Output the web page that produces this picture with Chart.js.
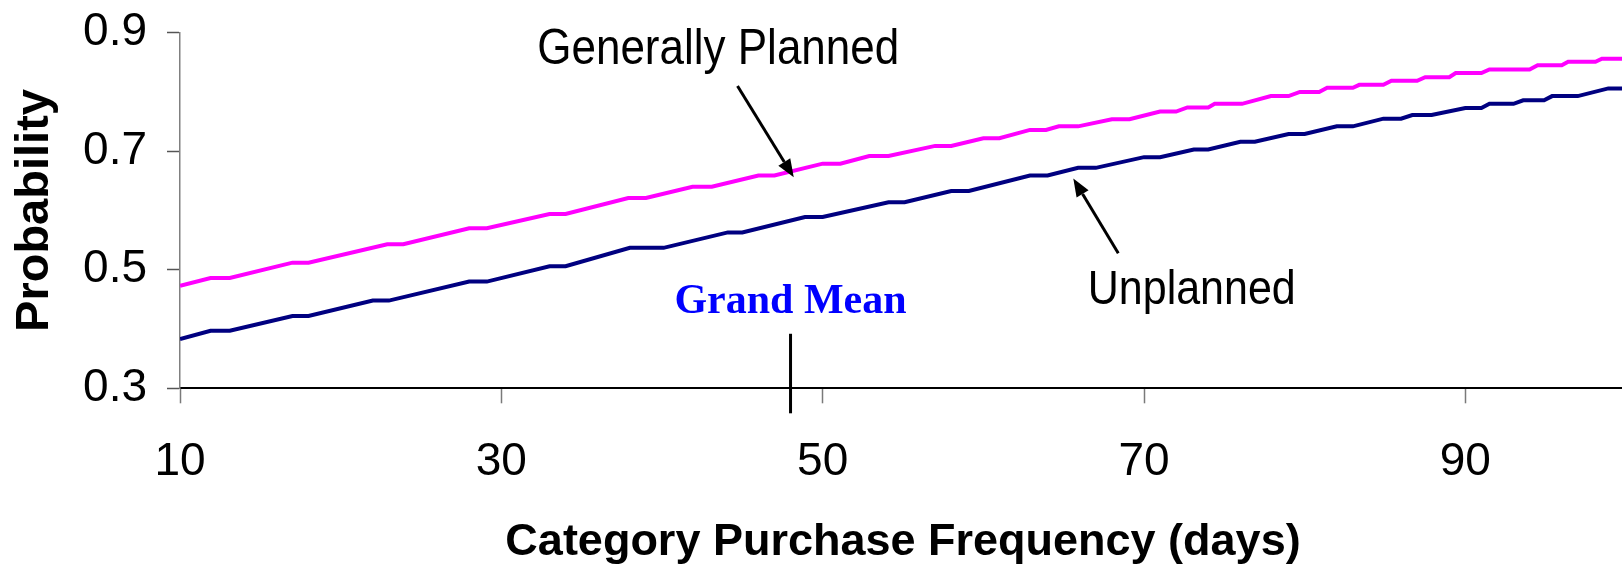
<!DOCTYPE html>
<html>
<head>
<meta charset="utf-8">
<script src="https://cdn.jsdelivr.net/npm/chart.js@4"></script>
<style>
  html, body { margin: 0; padding: 0; background: #ffffff; overflow: hidden; }
  #chart { display: block; }
</style>
</head>
<body>
<canvas id="chart" width="1626" height="575"></canvas>
<script>
// Purchase frequency (days) and probability, corner points of each curve
const plannedDays = [10, 11.9, 13.1, 17.0, 18.0, 22.9, 23.9, 28.0, 29.1, 33.0, 34.0, 37.9, 39.0, 41.9, 43.1, 46.0, 47.0, 50.0, 51.1, 52.9, 54.1, 57.0, 58.0, 60.0, 61.0, 62.9, 63.9, 64.7, 65.9, 68.0, 69.1, 71.0, 72.0, 72.7, 74.0, 74.4, 76.1, 77.9, 79.0, 79.7, 80.9, 81.4, 83.0, 83.4, 84.9, 85.4, 87.0, 87.5, 89.0, 89.4, 91.0, 91.5, 94.0, 94.5, 96.0, 96.4, 98.1, 98.5, 100];
const plannedProb = [0.473, 0.486, 0.486, 0.512, 0.512, 0.543, 0.543, 0.570, 0.570, 0.594, 0.594, 0.621, 0.621, 0.640, 0.640, 0.659, 0.659, 0.679, 0.679, 0.692, 0.692, 0.709, 0.709, 0.722, 0.722, 0.736, 0.736, 0.742, 0.742, 0.754, 0.754, 0.767, 0.767, 0.774, 0.774, 0.780, 0.780, 0.793, 0.793, 0.800, 0.800, 0.807, 0.807, 0.812, 0.812, 0.819, 0.819, 0.825, 0.825, 0.832, 0.832, 0.838, 0.838, 0.845, 0.845, 0.851, 0.851, 0.856, 0.856];

const unplannedDays = [10, 11.9, 13.1, 17.0, 18.0, 22.0, 23.0, 28.0, 29.1, 33.0, 34.0, 38.0, 39.0, 40.1, 44.1, 45.0, 48.9, 50.0, 54.1, 55.1, 58.0, 59.1, 62.9, 64.0, 65.9, 67.0, 70.0, 71.0, 73.1, 74.0, 76.0, 76.9, 79.0, 80.0, 82.0, 83.0, 84.9, 86.0, 86.7, 87.9, 90.0, 91.0, 91.5, 93.0, 93.6, 94.9, 95.4, 97.0, 98.9, 100];
const unplannedProb = [0.383, 0.397, 0.397, 0.422, 0.422, 0.448, 0.448, 0.480, 0.480, 0.506, 0.506, 0.537, 0.537, 0.537, 0.563, 0.563, 0.589, 0.589, 0.614, 0.614, 0.633, 0.633, 0.659, 0.659, 0.672, 0.672, 0.690, 0.690, 0.703, 0.703, 0.716, 0.716, 0.729, 0.729, 0.742, 0.742, 0.755, 0.755, 0.761, 0.761, 0.773, 0.773, 0.780, 0.780, 0.786, 0.786, 0.793, 0.793, 0.806, 0.806];

const dayTicks = [10, 30, 50, 70, 90];
const probTicks = [0.3, 0.5, 0.7, 0.9];
const grandMeanDay = 48;

const SANS = '"Liberation Sans", Arial, sans-serif';
const SERIF = '"Liberation Serif", "Times New Roman", serif';

function toPoints(xs, ys) {
  return xs.map((x, i) => ({ x: x, y: ys[i] }));
}

// Callouts placed in axis units
const callouts = {
  planned: { text: 'Generally Planned', day: 43.5, prob: 0.847, align: 'center', size: 44 },
  unplanned: { text: 'Unplanned', day: 66.5, prob: 0.442, align: 'left', size: 43 },
  plannedArrow: { fromDay: 44.7, fromProb: 0.810, toDay: 48.2, toProb: 0.656 },
  unplannedArrow: { fromDay: 68.4, fromProb: 0.528, toDay: 65.6, toProb: 0.654 },
  grandMean: { text: 'Grand Mean', prob: 0.427, lineTopProb: 0.392, below: 25 }
};
// callout lettering is slightly tall and narrow
const labelStretchY = 1.14;

function drawArrow(ctx, x1, y1, x2, y2) {
  const ang = Math.atan2(y2 - y1, x2 - x1);
  const headLen = 18, headHalf = 7;
  const bx = x2 - headLen * Math.cos(ang);
  const by = y2 - headLen * Math.sin(ang);
  ctx.beginPath();
  ctx.moveTo(x1, y1);
  ctx.lineTo(bx, by);
  ctx.lineWidth = 3;
  ctx.strokeStyle = '#000000';
  ctx.stroke();
  ctx.beginPath();
  ctx.moveTo(x2, y2);
  ctx.lineTo(bx + headHalf * Math.sin(ang), by - headHalf * Math.cos(ang));
  ctx.lineTo(bx - headHalf * Math.sin(ang), by + headHalf * Math.cos(ang));
  ctx.closePath();
  ctx.fillStyle = '#000000';
  ctx.fill();
}

const calloutPlugin = {
  id: 'callouts',
  afterDatasetsDraw(chart) {
    const ctx = chart.ctx;
    const xs = chart.scales.x, ys = chart.scales.y;
    ctx.save();

    // Grand mean marker
    const gx = xs.getPixelForValue(grandMeanDay);
    ctx.beginPath();
    ctx.moveTo(gx, ys.getPixelForValue(callouts.grandMean.lineTopProb));
    ctx.lineTo(gx, ys.bottom + callouts.grandMean.below);
    ctx.lineWidth = 3;
    ctx.strokeStyle = '#000000';
    ctx.stroke();

    ctx.font = 'bold 42px ' + SERIF;
    ctx.fillStyle = '#0000ff';
    ctx.textAlign = 'center';
    ctx.textBaseline = 'alphabetic';
    ctx.fillText(callouts.grandMean.text, gx, ys.getPixelForValue(callouts.grandMean.prob));

    // Series labels
    ctx.fillStyle = '#000000';
    [callouts.planned, callouts.unplanned].forEach(c => {
      ctx.save();
      ctx.font = c.size + 'px ' + SANS;
      ctx.textAlign = c.align;
      ctx.translate(xs.getPixelForValue(c.day), ys.getPixelForValue(c.prob));
      ctx.scale(1, labelStretchY);
      ctx.fillText(c.text, 0, 0);
      ctx.restore();
    });

    // Pointers
    [callouts.plannedArrow, callouts.unplannedArrow].forEach(a => {
      drawArrow(ctx,
        xs.getPixelForValue(a.fromDay), ys.getPixelForValue(a.fromProb),
        xs.getPixelForValue(a.toDay), ys.getPixelForValue(a.toProb));
    });
    ctx.restore();
  }
};

new Chart(document.getElementById('chart'), {
  type: 'line',
  data: {
    datasets: [
      {
        label: 'Generally Planned',
        data: toPoints(plannedDays, plannedProb),
        borderColor: '#ff00ff',
        borderWidth: 4,
        pointRadius: 0,
        tension: 0,
        fill: false
      },
      {
        label: 'Unplanned',
        data: toPoints(unplannedDays, unplannedProb),
        borderColor: '#000080',
        borderWidth: 4,
        pointRadius: 0,
        tension: 0,
        fill: false
      }
    ]
  },
  options: {
    responsive: false,
    devicePixelRatio: 1,
    animation: false,
    layout: { padding: { top: 32.7, left: 0, right: 0, bottom: 0 } },
    plugins: {
      legend: { display: false },
      tooltip: { enabled: false }
    },
    scales: {
      x: {
        type: 'linear',
        min: 10,
        max: 100,
        afterBuildTicks: s => { s.ticks = dayTicks.map(v => ({ value: v })); },
        afterFit: s => { s.height = 186.7; s.paddingLeft = 0; s.paddingRight = 0; },
        ticks: {
          font: { family: SANS, size: 46 },
          color: '#000000',
          padding: 31,
          maxRotation: 0,
          autoSkip: false
        },
        grid: {
          drawOnChartArea: false,
          drawTicks: true,
          tickLength: 15,
          tickColor: '#7a7a7a',
          tickWidth: 1.5
        },
        border: { display: true, color: '#000000', width: 2 },
        title: {
          display: true,
          text: 'Category Purchase Frequency (days)',
          font: { family: SANS, size: 45, weight: 'bold' },
          color: '#000000',
          padding: { top: 0, bottom: 5 }
        }
      },
      y: {
        type: 'linear',
        min: 0.3,
        max: 0.9,
        afterBuildTicks: s => { s.ticks = probTicks.map(v => ({ value: v })); },
        afterFit: s => { s.width = 180; s.paddingTop = 0; s.paddingBottom = 0; },
        ticks: {
          font: { family: SANS, size: 46 },
          color: '#000000',
          padding: 20,
          callback: v => v.toFixed(1)
        },
        grid: {
          drawOnChartArea: false,
          drawTicks: true,
          tickLength: 13,
          tickColor: '#555555',
          tickWidth: 1.5
        },
        border: { display: true, color: '#808080', width: 1.5 },
        title: {
          display: true,
          text: 'Probability',
          font: { family: SANS, size: 47, weight: 'bold' },
          color: '#000000',
          padding: { top: 7, bottom: 0 }
        }
      }
    }
  },
  plugins: [calloutPlugin]
});
</script>
</body>
</html>
